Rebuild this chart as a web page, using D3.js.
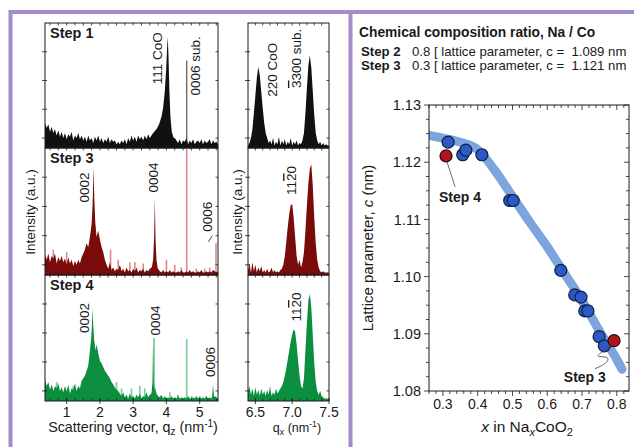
<!doctype html>
<html>
<head>
<meta charset="utf-8">
<script src="https://cdn.jsdelivr.net/npm/d3@7"></script>
<style>
  body { margin: 0; background: #fff; }
  svg { display: block; font-family: "Liberation Sans", Arial, sans-serif; }
</style>
</head>
<body>
<script>
// ---------- data ----------
// out-of-plane scans, q_z grid
const qzStart = 0.35, qzStep = 0.05;
const step1Bg = [0.20,0.16,0.19,0.13,0.17,0.12,0.15,0.10,0.14,0.09,
  0.13,0.08,0.12,0.07,0.11,0.09,0.13,0.06,0.10,0.08,0.12,0.07,0.10,0.06,
  0.09,0.05,0.10,0.06,0.08,0.04,0.09,0.06,0.10,0.05,0.08,0.04,0.07,0.05,0.09,0.04,0.07,0.05,0.06,0.03,
  0.05,0.03,0.06,0.04,0.07,0.03,0.08,0.05,0.10,0.06,0.09,0.05,0.10,0.07,0.09,0.06,0.10,0.07,0.11,0.08,
  0.10,0.12,0.13,0.15,0.18,0.22,0.30,0.45,0.80,0.40,0.20,0.12,0.09,0.07,0.08,
  0.06,0.04,0.07,0.03,0.06,0.05,0.08,0.03,0.06,0.04,0.07,0.03,0.05,0.06,0.04,0.07,0.03,0.06,0.04,0.05,0.07,0.03,0.06,0.04,0.05,0.03];
const step1Peaks = [
  [[3.60,0.12],[3.70,0.15],[3.78,0.19],[3.85,0.25],[3.90,0.32],[3.95,0.45],[3.99,0.62],[4.02,0.80],[4.04,0.89],[4.06,0.75],[4.09,0.45],[4.12,0.25],[4.16,0.13],[4.22,0.08]]
];
const step1Spikes = [[4.61,0.70]];

const step3Bg = [0.16,0.12,0.17,0.10,0.15,0.13,0.17,0.09,0.14,0.11,
  0.15,0.10,0.13,0.08,0.14,0.09,0.12,0.07,0.11,0.08,0.12,0.09,0.14,0.17,
  0.20,0.25,0.22,0.28,0.30,0.35,0.45,0.60,0.35,0.28,0.22,0.18,0.12,0.08,0.05,0.10,0.04,0.06,0.03,0.05,
  0.04,0.08,0.03,0.05,0.02,0.06,0.03,0.04,0.02,0.05,0.03,0.06,0.02,0.04,0.03,0.05,0.02,0.04,0.03,0.05,
  0.06,0.10,0.14,0.08,0.05,0.03,0.02,0.04,0.02,0.03,0.02,0.04,0.02,0.03,0.02,
  0.02,0.03,0.02,0.04,0.02,0.02,0.03,0.02,0.04,0.02,0.03,0.02,0.02,0.03,0.02,0.04,0.02,0.02,0.03,0.02,0.03,0.02,0.04,0.03,0.02,0.03];
const step3Peaks = [
  [[1.70,0.30],[1.75,0.40],[1.78,0.55],[1.80,0.75],[1.81,0.85],[1.83,0.62],[1.86,0.42],[1.90,0.30]],
  [[3.56,0.06],[3.60,0.12],[3.63,0.30],[3.65,0.61],[3.67,0.30],[3.70,0.12],[3.74,0.05]]
];
const step3Spikes = [[0.60,0.20],[1.00,0.18],[2.32,0.20],[2.55,0.12],[2.90,0.10],[3.05,0.10],[3.30,0.09],
  [4.00,0.12],[4.25,0.08],[4.45,0.06],[4.61,1.00],[4.90,0.05],[5.15,0.05],[5.30,0.06],[5.49,0.25]];

const step4Bg = [0.17,0.12,0.15,0.09,0.13,0.08,0.12,0.10,0.14,0.08,
  0.11,0.07,0.12,0.08,0.13,0.06,0.10,0.09,0.14,0.08,0.12,0.10,0.16,0.18,
  0.20,0.24,0.28,0.32,0.36,0.40,0.50,0.45,0.38,0.32,0.30,0.27,0.24,0.22,0.20,0.18,0.15,0.13,0.11,0.09,
  0.08,0.06,0.04,0.07,0.03,0.05,0.02,0.06,0.03,0.04,0.02,0.05,0.03,0.06,0.02,0.04,0.03,0.07,0.03,0.05,
  0.08,0.15,0.12,0.06,0.04,0.03,0.05,0.02,0.04,0.02,0.03,0.02,0.04,0.02,0.03,
  0.02,0.04,0.02,0.03,0.02,0.03,0.02,0.04,0.02,0.02,0.03,0.02,0.04,0.02,0.03,0.02,0.03,0.02,0.04,0.02,0.03,0.02,0.03,0.04,0.03,0.02];
const step4Peaks = [
  [[1.70,0.40],[1.74,0.50],[1.76,0.60],[1.78,0.74],[1.80,0.60],[1.83,0.48],[1.87,0.40]],
  [[3.55,0.06],[3.58,0.15],[3.60,0.50],[3.62,0.15],[3.65,0.06]],
  [[5.37,0.03],[5.40,0.13],[5.43,0.03]]
];
const step4Spikes = [[0.70,0.15],[1.20,0.12],[2.50,0.15],[2.65,0.10],[2.95,0.10],[3.20,0.12],[3.35,0.10],
  [3.63,0.50],[4.10,0.07],[4.35,0.05],[4.61,0.49],[4.75,0.04],[5.00,0.04]];

// in-plane scans, q_x grid
const qxStart = 6.40, qxStep = 0.02;
const step1Qx = [0.02,0.04,0.08,0.15,0.28,0.42,0.56,0.65,0.58,0.45,0.32,0.20,0.12,0.08,0.04,0.06,0.03,0.08,0.02,0.05,
  0.03,0.09,0.02,0.06,0.03,0.07,0.02,0.05,0.03,0.08,0.02,0.05,0.03,0.06,0.02,0.04,0.03,0.06,0.12,0.28,
  0.48,0.66,0.74,0.64,0.45,0.26,0.12,0.06,0.03,0.05,0.02,0.04,0.02,0.03,0.02,0.02];
const step3Qx = [0.03,0.09,0.02,0.10,0.03,0.08,0.02,0.06,0.03,0.07,0.02,0.04,0.02,0.05,0.02,0.03,0.06,0.02,0.04,0.02,
  0.03,0.02,0.04,0.05,0.08,0.15,0.26,0.38,0.48,0.55,0.56,0.45,0.30,0.15,0.08,0.12,0.06,0.10,0.18,0.35,
  0.55,0.72,0.84,0.87,0.70,0.45,0.25,0.12,0.06,0.03,0.02,0.03,0.02,0.02,0.02,0.02];
const step4Qx = [0.06,0.12,0.05,0.10,0.04,0.11,0.05,0.09,0.04,0.10,0.05,0.08,0.04,0.09,0.05,0.12,0.04,0.07,0.05,0.10,
  0.06,0.08,0.10,0.12,0.15,0.20,0.26,0.33,0.40,0.47,0.53,0.57,0.55,0.45,0.32,0.20,0.12,0.10,0.18,0.40,
  0.62,0.80,0.85,0.74,0.52,0.30,0.15,0.08,0.05,0.08,0.04,0.03,0.02,0.02,0.02,0.02];

// lattice parameter vs Na content
const naX = [0.315,0.357,0.366,0.412,0.492,0.502,0.639,0.679,0.697,0.708,0.717,0.749,0.764];
const latC = [1.1235,1.1213,1.1221,1.1213,1.1133,1.1133,1.1011,1.0968,1.0964,1.0940,1.0940,1.0895,1.0879];
const stepX = [0.309, 0.792];
const stepC = [1.1211, 1.0888];
const fitX = [0.25,0.30,0.35,0.40,0.45,0.50,0.55,0.60,0.65,0.70,0.75,0.80,0.815];
const fitC = [1.1248,1.1242,1.1235,1.1222,1.1185,1.1140,1.1095,1.1052,1.1005,1.0958,1.0905,1.0855,1.0838];

// ---------- helpers ----------
function spectrum(bg, start, step, peaks = []) {
  const pts = bg.map((h, i) => [start + i * step, h]);
  const spans = peaks.map(p => [p[0][0], p[p.length - 1][0]]);
  const kept = pts.filter(([q]) => !spans.some(([a, b]) => q >= a && q <= b));
  return kept.concat(...peaks).sort((a, b) => a[0] - b[0]);
}

const W = 634, H = 447;
const svg = d3.select("body").append("svg").attr("width", W).attr("height", H);
const ink = "#1a1a1a";

// purple frames
svg.append("path")
  .attr("d", "M10.5,447V12H634M350.5,12V447")
  .attr("fill", "none").attr("stroke", "#a28dca").attr("stroke-width", 4);

const rows = [
  {label: "Step 1", top: 23, bottom: 148, dark: "#111", light: "#555",
   qz: spectrum(step1Bg, qzStart, qzStep, step1Peaks), spikes: step1Spikes, qx: step1Qx},
  {label: "Step 3", top: 148, bottom: 275, dark: "#7a0b0b", light: "#dc8a8a",
   qz: spectrum(step3Bg, qzStart, qzStep, step3Peaks), spikes: step3Spikes, qx: step3Qx},
  {label: "Step 4", top: 275, bottom: 401, dark: "#0b8f3f", light: "#7fcb97",
   qz: spectrum(step4Bg, qzStart, qzStep, step4Peaks), spikes: step4Spikes, qx: step4Qx}
];

const xz = d3.scaleLinear([0.35, 5.55], [45, 218]);
const xq = d3.scaleLinear([6.4, 7.5], [248, 329]);
const intensityTicks = [0.08, 0.31, 0.54, 0.77];

function panelFrame(g, x, y, minor, opts) {
  const [x0, x1] = x.range(), [y1, y0] = y.range();
  g.append("rect").attr("x", x0).attr("y", y0).attr("width", x1 - x0).attr("height", y1 - y0)
    .attr("fill", "none").attr("stroke", ink).attr("stroke-width", 1);
  const t = g.append("g").attr("stroke", ink).attr("stroke-width", 0.8);
  minor.forEach(v => {
    const px = x(v);
    t.append("line").attr("x1", px).attr("x2", px).attr("y1", y0).attr("y2", y0 + 2.5);
    t.append("line").attr("x1", px).attr("x2", px).attr("y1", y1).attr("y2", y1 - 2.5);
  });
  intensityTicks.forEach(v => {
    const py = y(v);
    t.append("line").attr("x1", x0 - 3).attr("x2", x0 + 2).attr("y1", py).attr("y2", py);
    t.append("line").attr("x1", x1 - 2.5).attr("x2", x1).attr("y1", py).attr("y2", py);
  });
  if (opts.major) {
    opts.major.forEach(v => {
      const px = x(v);
      t.append("line").attr("x1", px).attr("x2", px).attr("y1", y1 - 3).attr("y2", y1 + 3);
      g.append("text").attr("x", px).attr("y", y1 + 16).attr("text-anchor", "middle")
        .attr("font-size", 14).attr("fill", ink).text(opts.fmt(v));
    });
  }
}

function rotLabel(g, px, py, parts, size = 13.5) {
  const t = g.append("text").attr("transform", `translate(${px},${py}) rotate(-90)`)
    .attr("dy", "0.36em").attr("font-size", size).attr("fill", ink);
  parts.forEach(p => {
    const s = t.append("tspan").text(p.t);
    if (p.bar) s.style("text-decoration", "overline");
  });
}

rows.forEach((r, i) => {
  const y = d3.scaleLinear([0, 1], [r.bottom, r.top]);
  const last = i === rows.length - 1;

  // q_z panel
  const gz = svg.append("g");
  const clipZ = "clipz" + i;
  svg.append("clipPath").attr("id", clipZ).append("rect")
    .attr("x", xz.range()[0]).attr("y", r.top).attr("width", xz.range()[1] - xz.range()[0]).attr("height", r.bottom - r.top);
  const gzc = gz.append("g").attr("clip-path", `url(#${clipZ})`);
  gzc.selectAll("line").data(r.spikes).join("line")
    .attr("x1", d => xz(d[0])).attr("x2", d => xz(d[0]))
    .attr("y1", y(0)).attr("y2", d => y(d[1]))
    .attr("stroke", r.light).attr("stroke-width", i === 0 ? 1.2 : 1.6);
  gzc.append("path").datum(r.qz)
    .attr("fill", r.dark)
    .attr("d", d3.area().x(d => xz(d[0])).y0(y(0)).y1(d => y(d[1])));
  panelFrame(gz, xz, y, d3.range(0.5, 5.51, 0.25), last ? {major: [1, 2, 3, 4, 5], fmt: d3.format("d")} : {});
  gz.append("text").attr("x", 50).attr("y", r.top + 15).attr("font-size", 14.5).attr("font-weight", "bold")
    .attr("fill", ink).text(r.label);

  // q_x panel
  const gx = svg.append("g");
  const clipX = "clipx" + i;
  svg.append("clipPath").attr("id", clipX).append("rect")
    .attr("x", xq.range()[0]).attr("y", r.top).attr("width", xq.range()[1] - xq.range()[0]).attr("height", r.bottom - r.top);
  gx.append("g").attr("clip-path", `url(#${clipX})`).append("path")
    .datum(r.qx.map((h, k) => [qxStart + k * qxStep, h]))
    .attr("fill", r.dark)
    .attr("d", d3.area().x(d => xq(d[0])).y0(y(0)).y1(d => y(d[1])));
  panelFrame(gx, xq, y, d3.range(6.5, 7.45, 0.1), last ? {major: [6.5, 7.0, 7.5], fmt: d3.format(".1f")} : {});

  r.y = y;
});

// peak labels
const [r1, r3, r4] = rows;
rotLabel(svg, xz(3.72), r1.y(0.51), [{t: "111 CoO"}]);
rotLabel(svg, xz(4.86), r1.y(0.42), [{t: "0006 sub."}]);
rotLabel(svg, xz(1.52), r3.y(0.57), [{t: "0002"}]);
rotLabel(svg, xz(3.60), r3.y(0.65), [{t: "0004"}]);
rotLabel(svg, xz(5.22), r3.y(0.34), [{t: "0006"}]);
svg.append("line").attr("x1", xz(5.26)).attr("y1", r3.y(0.26)).attr("x2", xz(5.38)).attr("y2", r3.y(0.31))
  .attr("stroke", ink).attr("stroke-width", 0.8);
rotLabel(svg, xz(1.52), r4.y(0.54), [{t: "0002"}]);
rotLabel(svg, xz(3.66), r4.y(0.52), [{t: "0004"}]);
rotLabel(svg, xz(5.31), r4.y(0.19), [{t: "0006"}]);
rotLabel(svg, xq(6.733), r1.y(0.41), [{t: "220 CoO"}]);
rotLabel(svg, xq(7.053), r1.y(0.48), [{t: "3", bar: true}, {t: "300 sub."}]);
rotLabel(svg, xq(6.987), r3.y(0.63), [{t: "11"}, {t: "2", bar: true}, {t: "0"}]);
rotLabel(svg, xq(7.053), r4.y(0.63), [{t: "11"}, {t: "2", bar: true}, {t: "0"}]);

// axis titles, left side
const yMid = (r1.top + r4.bottom) / 2;
[30, 237].forEach(px => {
  svg.append("text").attr("transform", `translate(${px},${yMid}) rotate(-90)`)
    .attr("dy", "0.36em").attr("text-anchor", "middle").attr("font-size", 13.5).attr("fill", ink)
    .text("Intensity (a.u.)");
});
function qTitle(px, pre, sub, size) {
  const t = svg.append("text").attr("x", px).attr("y", 432).attr("text-anchor", "middle")
    .attr("font-size", size).attr("fill", ink);
  t.append("tspan").text(pre + "q");
  t.append("tspan").attr("font-size", size * 0.7).attr("dy", 3).text(sub);
  t.append("tspan").attr("dy", -3).text(" (nm");
  t.append("tspan").attr("font-size", size * 0.7).attr("dy", -5).text("-1");
  t.append("tspan").attr("dy", 5).text(")");
}
qTitle(133, "Scattering vector, ", "z", 14.3);
qTitle(297, "", "x", 12.5);

// ---------- right panel ----------
const hdr = svg.append("g").attr("fill", ink);
hdr.append("text").attr("x", 359).attr("y", 37).attr("font-size", 13.8).attr("font-weight", "bold")
  .text("Chemical composition ratio, Na / Co");
[["Step 2", "0.8 [ lattice parameter, c =  1.089 nm", 56], ["Step 3", "0.3 [ lattice parameter, c =  1.121 nm", 70]]
  .forEach(([s, rest, yy]) => {
    hdr.append("text").attr("x", 361).attr("y", yy).attr("font-size", 13.2).attr("font-weight", "bold").text(s);
    hdr.append("text").attr("x", 412).attr("y", yy).attr("font-size", 13.2).style("white-space", "pre").text(rest);
  });

const x = d3.scaleLinear([0.26, 0.835], [429, 629]);
const y = d3.scaleLinear([1.08, 1.13], [391, 105]);
const gr = svg.append("g");

svg.append("clipPath").attr("id", "clipr").append("rect")
  .attr("x", 429).attr("y", 105).attr("width", 200).attr("height", 286);
gr.append("path").datum(d3.zip(fitX, fitC))
  .attr("clip-path", "url(#clipr)")
  .attr("fill", "none").attr("stroke", "#6f9bd9").attr("stroke-opacity", 0.9)
  .attr("stroke-width", 9).attr("stroke-linecap", "round")
  .attr("d", d3.line().x(d => x(d[0])).y(d => y(d[1])).curve(d3.curveMonotoneX));

gr.append("rect").attr("x", 429).attr("y", 105).attr("width", 200).attr("height", 286)
  .attr("fill", "none").attr("stroke", ink).attr("stroke-width", 1);

const tk = gr.append("g").attr("stroke", ink).attr("stroke-width", 0.8);
d3.range(0.26, 0.835, 0.02).forEach(v => {
  const major = Math.abs(v * 10 - Math.round(v * 10)) < 1e-6;
  const len = major ? 5 : 3;
  tk.append("line").attr("x1", x(v)).attr("x2", x(v)).attr("y1", 391).attr("y2", 391 + len);
  tk.append("line").attr("x1", x(v)).attr("x2", x(v)).attr("y1", 105).attr("y2", 105 + len);
});
d3.range(1.08, 1.1301, 0.0025).forEach(v => {
  const major = Math.abs(v * 100 - Math.round(v * 100)) < 1e-6;
  const len = major ? 5 : 3;
  tk.append("line").attr("x1", 429 - len).attr("x2", 429).attr("y1", y(v)).attr("y2", y(v));
  tk.append("line").attr("x1", 629 - len).attr("x2", 629).attr("y1", y(v)).attr("y2", y(v));
});
[0.3, 0.4, 0.5, 0.6, 0.7, 0.8].forEach(v => {
  gr.append("text").attr("x", x(v)).attr("y", 409).attr("text-anchor", "middle")
    .attr("font-size", 14).attr("fill", ink).text(d3.format(".1f")(v));
});
[1.08, 1.09, 1.10, 1.11, 1.12, 1.13].forEach(v => {
  gr.append("text").attr("x", 421).attr("y", y(v)).attr("dy", "0.36em").attr("text-anchor", "end")
    .attr("font-size", 14.5).attr("fill", ink).text(d3.format(".2f")(v));
});

gr.append("g").selectAll("circle").data(d3.zip(naX, latC)).join("circle")
  .attr("cx", d => x(d[0])).attr("cy", d => y(d[1])).attr("r", 6)
  .attr("fill", "#2d59c6").attr("stroke", "#0f1f45").attr("stroke-width", 1.2);
gr.append("g").selectAll("circle").data(d3.zip(stepX, stepC)).join("circle")
  .attr("cx", d => x(d[0])).attr("cy", d => y(d[1])).attr("r", 6)
  .attr("fill", "#b3121f").attr("stroke", "#2a0a0a").attr("stroke-width", 1.2);

// step annotations
gr.append("line").attr("x1", x(stepX[0]) + 1).attr("y1", y(stepC[0]) + 6)
  .attr("x2", x(0.335)).attr("y2", y(1.1157)).attr("stroke", "#444").attr("stroke-width", 0.8);
gr.append("text").attr("x", x(0.349)).attr("y", y(1.113)).attr("text-anchor", "middle")
  .attr("font-size", 14).attr("font-weight", "bold").attr("fill", ink).text("Step 4");
const sx = x(stepX[1]), sy = y(stepC[1]);
gr.append("path")
  .attr("d", `M${sx - 19},${sy + 28} C${sx - 4},${sy + 22} ${sx - 2},${sy + 16} ${sx - 13},${sy + 16} C${sx - 22},${sy + 16} ${sx - 8},${sy + 9} ${sx - 2},${sy + 6}`)
  .attr("fill", "none").attr("stroke", "#444").attr("stroke-width", 0.8);
gr.append("text").attr("x", x(0.708)).attr("y", y(1.0816)).attr("text-anchor", "middle")
  .attr("font-size", 14).attr("font-weight", "bold").attr("fill", ink).text("Step 3");

// right axis titles
const yt = svg.append("text").attr("transform", `translate(368,${(105 + 391) / 2}) rotate(-90)`)
  .attr("dy", "0.36em").attr("text-anchor", "middle").attr("font-size", 15).attr("fill", ink);
yt.append("tspan").text("Lattice parameter, ");
yt.append("tspan").attr("font-style", "italic").text("c");
yt.append("tspan").text(" (nm)");

const xt = svg.append("text").attr("x", 527).attr("y", 432).attr("text-anchor", "middle")
  .attr("font-size", 15.5).attr("fill", ink);
xt.append("tspan").attr("font-style", "italic").text("x");
xt.append("tspan").text(" in Na");
xt.append("tspan").attr("font-style", "italic").attr("font-size", 11).attr("dy", 4).text("x");
xt.append("tspan").attr("dy", -4).text("CoO");
xt.append("tspan").attr("font-size", 11).attr("dy", 4).text("2");
</script>
</body>
</html>
